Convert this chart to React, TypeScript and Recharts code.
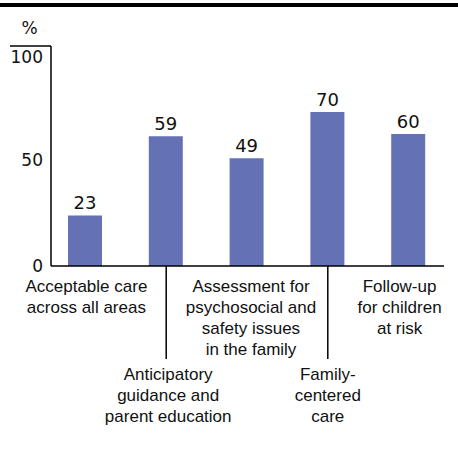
import { BarChart, Bar, XAxis, YAxis, LabelList } from 'recharts'

const categories = [
  'Acceptable care|across all areas',
  'Anticipatory|guidance and|parent education',
  'Assessment for|psychosocial and|safety issues|in the family',
  'Family-|centered|care',
  'Follow-up|for children|at risk',
]
const values = [23, 59, 49, 70, 60]
const yTicks = [0, 50, 100]

const data = categories.map((name, i) => ({ name, value: values[i] }))

const NUM_FONT = '"DejaVu Sans", sans-serif'
const LABEL_FONT = '"Liberation Sans", Arial, sans-serif'

// y tick labels sit a little below their gridline in the original
const yShift: Record<number, number> = { 0: 1, 50: 5, 100: 12 }

const YTick = ({ x, y, payload }: any) => (
  <g>
    {payload.value === 100 && (
      <line x1={10} x2={x + 8} y1={y} y2={y} stroke="#000" strokeWidth={1.5} />
    )}
    <text
      x={x}
      y={y + yShift[payload.value]}
      textAnchor="end"
      dominantBaseline="middle"
      fontFamily={NUM_FONT}
      fontSize={17}
      fill="#111"
    >
      {payload.value}
    </text>
  </g>
)

// staggered category labels, odd ones hang below a leader line
const labelDx = [1, 2, 4, 0, -9]

const XTick = ({ x, y, payload, index }: any) => {
  const lines = String(payload.value).split('|')
  const low = index % 2 === 1
  const start = low ? y + 110 : y + 22
  return (
    <g>
      {low && <line x1={x} x2={x} y1={y} y2={y + 93} stroke="#000" strokeWidth={1.5} />}
      <text
        textAnchor="middle"
        dominantBaseline="middle"
        fontFamily={LABEL_FONT}
        fontSize={17}
        fill="#111"
      >
        {lines.map((l, i) => (
          <tspan key={i} x={x + labelDx[index]} y={start + i * 21}>
            {l}
          </tspan>
        ))}
      </text>
    </g>
  )
}

export default function App() {
  return (
    <div style={{ position: 'relative', width: 458, height: 450, background: '#fff' }}>
      <style>{`body{margin:0}`}</style>
      <div style={{ position: 'absolute', left: 0, top: 3, width: 458, height: 4, background: '#000' }} />
      <BarChart
        width={458}
        height={450}
        data={data}
        margin={{ top: 46, right: 14, left: 0, bottom: 0 }}
      >
        <XAxis
          dataKey="name"
          height={184}
          padding={{ left: -6, right: -5 }}
          axisLine={{ stroke: '#000', strokeWidth: 1.5 }}
          tickLine={false}
          tickSize={0}
          tickMargin={0}
          interval={0}
          tick={<XTick />}
        />
        <YAxis
          width={51}
          domain={[0, 100]}
          ticks={yTicks}
          axisLine={{ stroke: '#000', strokeWidth: 1.5 }}
          tickLine={false}
          tickSize={0}
          tickMargin={8}
          tick={<YTick />}
          label={{
            value: '%',
            position: 'top',
            offset: 12,
            fontFamily: NUM_FONT,
            fontSize: 17,
            fill: '#111',
            dx: 4,
          }}
        />
        <Bar dataKey="value" fill="#6571b5" barSize={34} isAnimationActive={false}>
          <LabelList
            dataKey="value"
            position="top"
            offset={6}
            fontFamily={NUM_FONT}
            fontSize={18}
            fill="#111"
          />
        </Bar>
      </BarChart>
    </div>
  )
}
